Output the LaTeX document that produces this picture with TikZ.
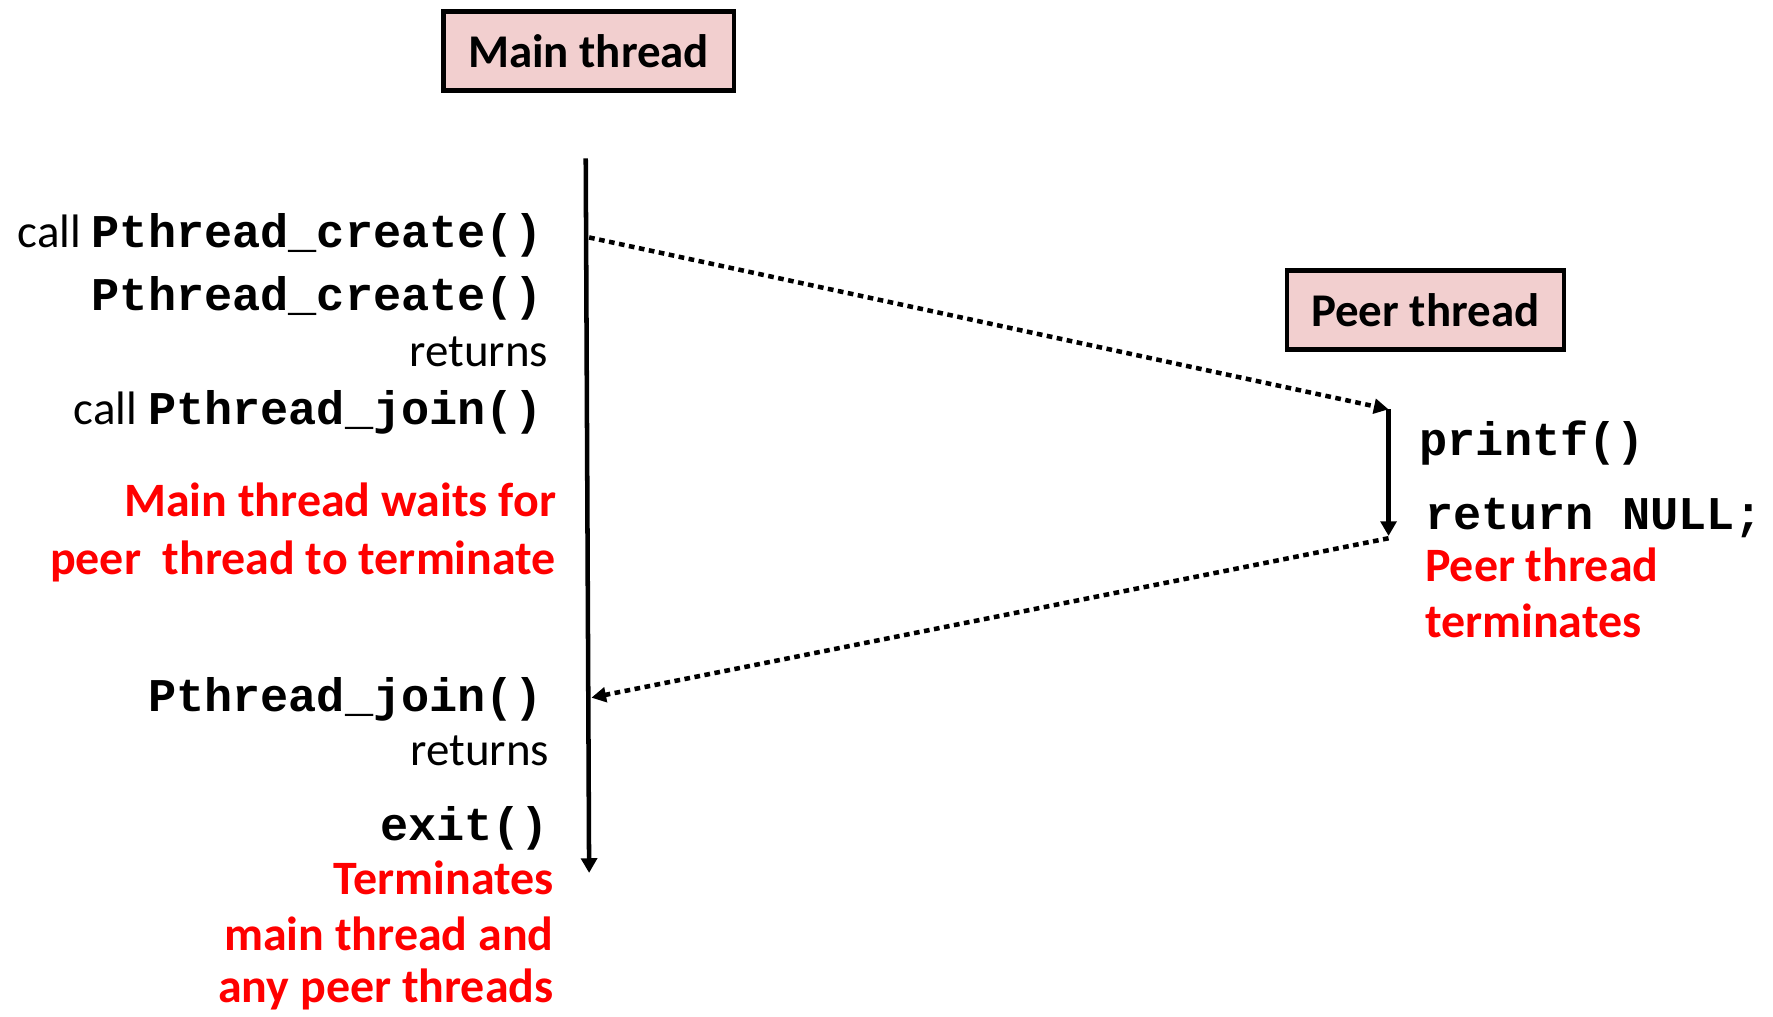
\documentclass[tikz,border=0pt]{standalone}
\usepackage{fontspec}
\setmainfont{Carlito}
\setmonofont{Liberation Mono}
\usetikzlibrary{arrows.meta}
\definecolor{boxpink}{HTML}{F2CFCF}
\definecolor{txtred}{HTML}{FF0000}
\newcommand\mycode[1]{{\ttfamily\bfseries #1}}
\begin{document}
\begin{tikzpicture}[x=0.5pt,y=-0.5pt,
  every node/.style={inner sep=0pt, font=\fontsize{20.75pt}{25pt}\selectfont},
  titlebox/.style={draw=black, line width=2pt, fill=boxpink, font=\fontsize{20.75pt}{25pt}\selectfont\bfseries},
  lbl/.style={anchor=base east},
  rlbl/.style={anchor=base west},
  note/.style={text=txtred, font=\fontsize{21.2pt}{25pt}\selectfont\bfseries},
  timeline/.style={line width=2pt, -{Triangle[length=6.5pt,width=7pt]}},
  msg/.style={line width=2pt, dash pattern=on 2.5pt off 2pt, -{Triangle[length=6.5pt,width=6.5pt]}},
]
\useasboundingbox (0,0) rectangle (1568,899);

% thread boxes
\node[titlebox, minimum width=128.5pt, minimum height=35pt] (mainbox) at (520.5,45) {Main thread};
\node[titlebox, minimum width=122.5pt, minimum height=35pt] (peerbox) at (1260.5,274) {Peer thread};

% time lines
\coordinate (mtop) at (518,140);
\coordinate (mend) at (521,772);
\draw[timeline] (mtop) -- (mend);
\coordinate (ptop) at (1228,362);
\coordinate (pend) at (1228,474);
\draw[timeline] (ptop) -- (pend);

% messages
\coordinate (csrc) at (521,210);
\draw[msg] (csrc) -- (ptop);
\coordinate (psrc) at (1228,476);
\coordinate (jdst) at (523,617);
\draw[msg] (psrc) -- (jdst);

% main thread labels
\node[lbl] (l1) at (480,219) {call \mycode{Pthread\_create()}};
\node[lbl] (l2) at (480,275) {\mycode{Pthread\_create()}};
\node[lbl] (l3) at (485,324) {returns};
\node[lbl] (l4) at (480,375) {call \mycode{Pthread\_join()}};
\node[lbl, note] (l5) at (492,457) {Main thread waits for};
\node[lbl, note] (l6) at (492,508) {peer \ thread to terminate};
\node[lbl] (l7) at (480,629) {\mycode{Pthread\_join()}};
\node[lbl] (l8) at (486,677) {returns};
\node[lbl] (l9) at (486,743) {\mycode{exit()}};
\node[lbl, note] (l10) at (490,791) {Terminates};
\node[lbl, note] (l11) at (490,841) {main thread and};
\node[lbl, note] (l12) at (490,887) {any peer threads};

% peer thread labels
\node[rlbl] (p1) at (1255,403) {\mycode{printf()}};
\node[rlbl] (p2) at (1260,468) {\mycode{return NULL;}};
\node[rlbl, note] (p3) at (1260,514) {Peer thread};
\node[rlbl, note] (p4) at (1260,564) {terminates};
\end{tikzpicture}
\end{document}
